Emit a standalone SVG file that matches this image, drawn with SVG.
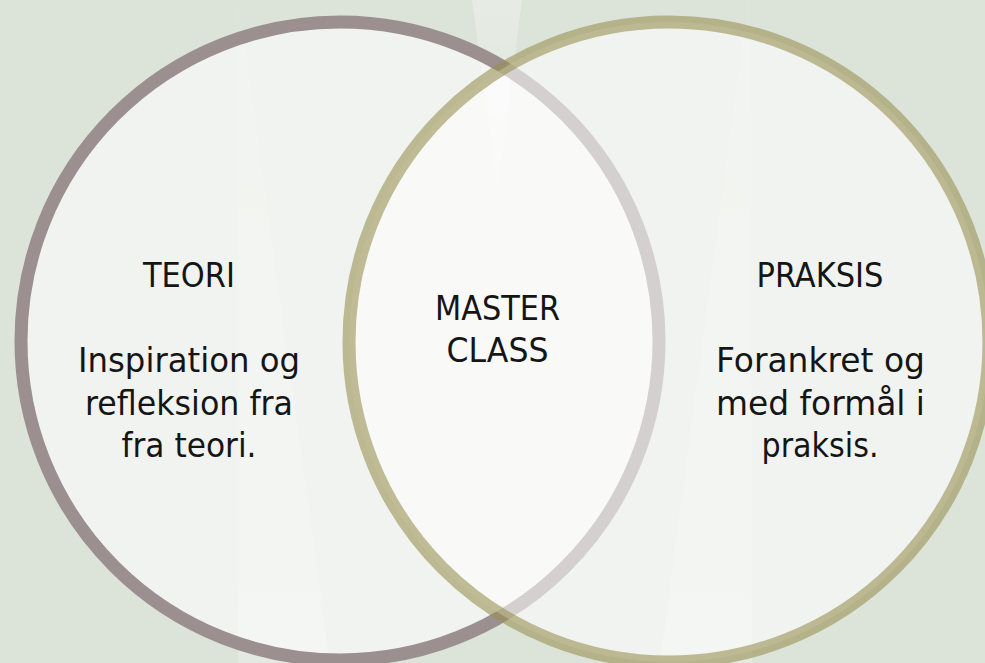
<svg xmlns="http://www.w3.org/2000/svg" width="985" height="663" viewBox="0 0 985 663">
  <style>
    .lbl { font-family: "DejaVu Sans", "Liberation Sans", sans-serif; font-size: 33px; fill: #151515; text-anchor: middle; }
    .fillc { fill: #ffffff; fill-opacity: 0.58; }
    .strokeL { fill: none; stroke: #9b8f8f; stroke-width: 13; }
    .strokeR { fill: none; stroke: #989154; stroke-opacity: 0.6; stroke-width: 13; }
  </style>
  <defs>
    <linearGradient id="beamDown" x1="0" y1="0" x2="0" y2="1">
      <stop offset="0" stop-color="#ffffff" stop-opacity="0.3"/>
      <stop offset="1" stop-color="#ffffff" stop-opacity="0.05"/>
    </linearGradient>
    <linearGradient id="beamUp" x1="0" y1="0" x2="0" y2="1">
      <stop offset="0" stop-color="#ffffff" stop-opacity="0.03"/>
      <stop offset="1" stop-color="#ffffff" stop-opacity="0.22"/>
    </linearGradient>
  </defs>

  <g id="background">
    <rect x="0" y="0" width="985" height="663" fill="#dce3d9"/>
    <polygon points="472,0 522,0 498,190" fill="url(#beamDown)"/>
    <polygon points="237,4 239,4 330,663 238,663" fill="url(#beamUp)"/>
    <polygon points="748,0 750,0 752,663 660,663" fill="url(#beamUp)"/>
  </g>

  <g id="connectors"></g>

  <g id="node-teori">
    <circle class="fillc" cx="340" cy="341" r="319"/>
    <circle class="strokeL" cx="340" cy="341" r="319"/>
    <text class="lbl" x="189" y="287" textLength="92" lengthAdjust="spacingAndGlyphs">TEORI</text>
    <text class="lbl" x="189" y="372" textLength="222" lengthAdjust="spacingAndGlyphs">Inspiration og</text>
    <text class="lbl" x="189" y="414.5" textLength="208" lengthAdjust="spacingAndGlyphs">refleksion fra</text>
    <text class="lbl" x="189" y="457" textLength="135" lengthAdjust="spacingAndGlyphs">fra teori.</text>
  </g>

  <g id="node-praksis">
    <circle class="fillc" cx="669" cy="342" r="320"/>
    <circle class="strokeR" cx="669" cy="342" r="320"/>
    <text class="lbl" x="820" y="287" textLength="127" lengthAdjust="spacingAndGlyphs">PRAKSIS</text>
    <text class="lbl" x="820.5" y="372" textLength="209" lengthAdjust="spacingAndGlyphs">Forankret og</text>
    <text class="lbl" x="820.5" y="414.5" textLength="209" lengthAdjust="spacingAndGlyphs">med formål i</text>
    <text class="lbl" x="820" y="457" textLength="117" lengthAdjust="spacingAndGlyphs">praksis.</text>
  </g>

  <g id="node-masterclass">
    <text class="lbl" x="497.5" y="319.5" textLength="125" lengthAdjust="spacingAndGlyphs">MASTER</text>
    <text class="lbl" x="497.5" y="362" textLength="102" lengthAdjust="spacingAndGlyphs">CLASS</text>
  </g>
</svg>
